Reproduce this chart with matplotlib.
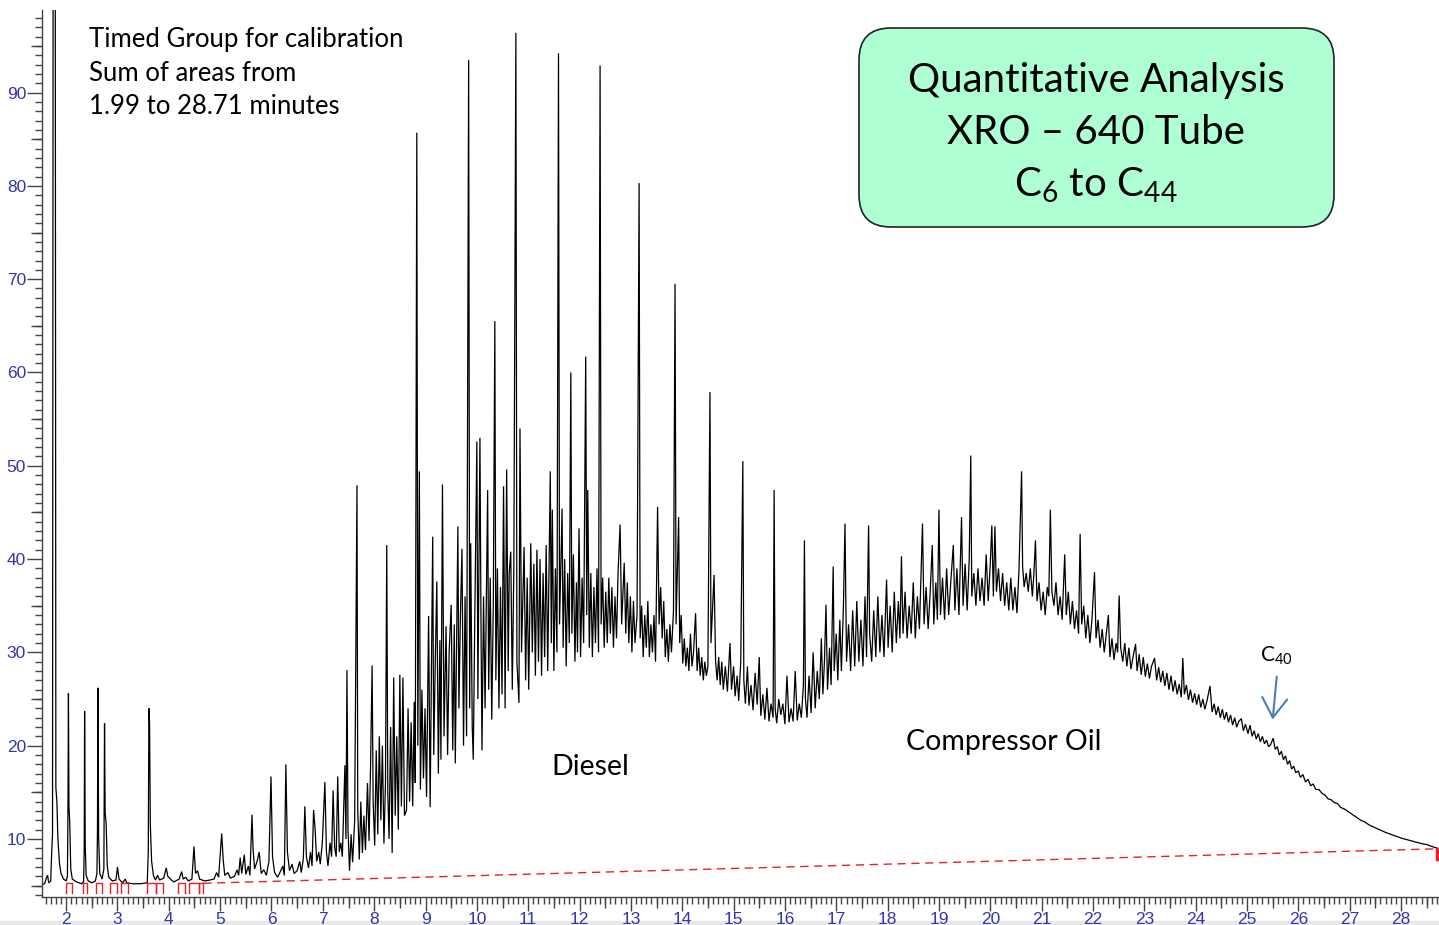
import numpy as np
import matplotlib
matplotlib.use("Agg")
import matplotlib.pyplot as plt
from matplotlib.ticker import MultipleLocator, FixedLocator, NullFormatter, FuncFormatter
from matplotlib.patches import FancyBboxPatch, Rectangle

plt.rcParams['font.family'] = ['Lato', 'DejaVu Sans']
plt.rcParams['mathtext.fontset'] = 'custom'
plt.rcParams['mathtext.rm'] = 'Lato'

# retention time (min), signal -- vertices of the chromatogram trace
early = [
    (1.53, 5.1), (1.58, 5.2), (1.62, 5.9), (1.64, 6.1), (1.66, 5.3), (1.70, 5.5), (1.72, 8.8), (1.735, 10.5),
    (1.75, 130), (1.785, 130), (1.80, 15.5), (1.82, 14.0), (1.84, 10.0), (1.87, 7.4), (1.90, 6.3), (1.95, 5.7),
    (2.00, 5.5), (2.025, 6.0), (2.035, 12.5), (2.045, 25.6), (2.055, 13.5), (2.07, 11.8), (2.09, 6.8), (2.12, 5.7),
    (2.20, 5.4), (2.30, 5.2), (2.34, 5.4), (2.352, 8.8), (2.36, 23.7), (2.372, 9.2), (2.39, 6.1), (2.43, 5.5),
    (2.50, 5.3), (2.57, 5.5), (2.60, 6.3), (2.61, 10.8), (2.62, 26.2), (2.633, 10.2), (2.655, 6.3), (2.70, 5.7),
    (2.735, 6.8), (2.748, 22.4), (2.76, 12.8), (2.78, 11.6), (2.80, 7.2), (2.83, 5.9), (2.90, 5.5), (2.97, 5.6),
    (3.00, 7.0), (3.03, 5.7), (3.10, 5.3), (3.15, 5.7), (3.18, 5.3), (3.30, 5.2), (3.45, 5.2), (3.58, 5.3),
    (3.60, 8.6), (3.612, 24.0), (3.625, 22.5), (3.64, 11.5), (3.665, 7.6), (3.70, 6.1), (3.74, 5.6), (3.78, 6.1),
    (3.82, 5.6), (3.90, 5.8), (3.95, 6.9), (3.98, 6.0), (4.05, 5.6), (4.10, 5.4), (4.20, 5.7), (4.25, 6.5),
    (4.28, 5.7), (4.33, 5.9), (4.38, 5.5), (4.45, 5.7), (4.49, 9.2), (4.52, 6.3), (4.56, 6.6), (4.60, 5.7),
    (4.70, 5.5), (4.80, 5.6), (4.88, 5.7), (4.93, 6.4), (4.97, 5.9), (5.03, 10.6), (5.06, 7.7), (5.09, 6.1),
    (5.15, 6.4), (5.20, 5.8), (5.28, 6.0), (5.33, 6.7), (5.36, 6.1), (5.39, 8.0), (5.42, 6.3), (5.47, 8.3),
    (5.50, 6.2), (5.55, 7.1), (5.58, 6.1), (5.62, 12.6), (5.64, 9.0), (5.67, 6.8), (5.72, 7.6), (5.76, 8.6),
    (5.80, 6.3), (5.85, 6.7), (5.90, 6.1), (5.95, 7.6), (5.99, 16.7), (6.02, 8.1), (6.06, 6.4), (6.12, 5.9),
    (6.18, 6.6), (6.22, 7.1), (6.25, 6.1), (6.28, 18.0), (6.31, 8.6), (6.35, 6.6), (6.40, 7.3), (6.44, 6.3),
    (6.50, 6.6), (6.55, 7.6), (6.58, 6.4), (6.62, 7.9), (6.65, 13.5), (6.68, 8.1), (6.72, 6.9), (6.76, 8.6),
    (6.79, 7.1), (6.82, 13.1), (6.85, 11.0), (6.88, 7.6), (6.92, 8.6), (6.95, 7.3), (6.99, 9.6), (7.04, 16.1),
    (7.07, 8.6), (7.10, 7.1), (7.14, 9.6), (7.17, 8.1), (7.20, 15.2), (7.23, 9.1), (7.26, 8.1), (7.29, 16.7),
    (7.32, 8.6), (7.35, 9.6), (7.38, 8.1), (7.43, 17.9), (7.45, 10.0), (7.47, 28.1), (7.49, 11.0), (7.52, 6.6),
    (7.55, 10.5), (7.58, 7.5), (7.62, 12.0), (7.665, 47.9), (7.68, 13.0), (7.71, 7.8), (7.74, 14.0), (7.77, 8.5),
    (7.80, 12.5), (7.83, 8.8), (7.87, 16.0), (7.90, 9.8), (7.93, 18.0), (7.96, 28.6), (7.98, 14.0), (8.01, 9.3),
    (8.04, 19.5), (8.07, 10.5), (8.10, 21.0), (8.13, 12.0), (8.16, 20.0), (8.19, 9.5), (8.22, 16.0), (8.245, 41.5),
    (8.265, 15.0), (8.29, 10.0), (8.32, 22.0), (8.35, 8.5), (8.38, 27.3), (8.41, 12.5), (8.44, 21.0), (8.47, 11.0),
    (8.50, 27.6), (8.53, 13.5), (8.56, 27.3), (8.59, 12.5),
]

diesel = [
    (8.63, 13.1), (8.66, 24.0), (8.69, 14.0), (8.72, 22.5), (8.75, 13.5), (8.78, 24.7), (8.80, 16.0), (8.83, 85.7),
    (8.85, 20.0), (8.88, 49.4), (8.90, 15.3), (8.93, 26.0), (8.96, 16.5), (8.99, 24.0), (9.02, 14.5), (9.06, 33.9),
    (9.09, 13.4), (9.14, 42.4), (9.16, 19.0), (9.19, 29.0), (9.22, 37.6), (9.25, 17.0), (9.28, 31.3), (9.30, 18.5),
    (9.33, 48.0), (9.36, 21.0), (9.40, 32.8), (9.43, 19.0), (9.46, 30.0), (9.50, 35.1), (9.53, 19.5), (9.56, 33.0),
    (9.58, 18.1), (9.63, 43.5), (9.65, 24.0), (9.68, 34.0), (9.71, 41.1), (9.74, 20.0), (9.77, 36.0), (9.80, 21.0),
    (9.84, 93.5), (9.86, 24.0), (9.88, 41.7), (9.91, 22.0), (9.93, 18.5), (9.96, 34.0), (10.00, 52.6), (10.02, 25.0),
    (10.06, 53.0), (10.08, 33.5), (10.10, 19.5), (10.13, 36.0), (10.16, 24.0), (10.21, 47.4), (10.23, 26.0),
    (10.26, 38.0), (10.29, 22.8), (10.32, 35.0), (10.35, 65.5), (10.37, 27.0), (10.40, 39.0), (10.43, 24.0),
    (10.46, 37.0), (10.49, 25.5), (10.52, 47.8), (10.55, 24.0), (10.58, 49.6), (10.61, 28.0), (10.63, 38.5),
    (10.66, 40.8), (10.69, 26.0), (10.72, 39.0), (10.76, 96.4), (10.78, 29.0), (10.82, 24.6), (10.84, 54.0),
    (10.87, 30.0), (10.92, 41.3), (10.95, 27.0), (10.98, 38.0), (11.01, 26.0), (11.05, 41.7), (11.08, 30.0),
    (11.11, 39.5), (11.14, 27.5), (11.17, 41.0), (11.20, 29.0), (11.23, 40.0), (11.26, 27.5), (11.29, 38.5),
    (11.32, 29.5), (11.35, 41.5), (11.38, 28.0), (11.43, 49.4), (11.45, 31.0), (11.47, 45.3), (11.50, 28.0),
    (11.53, 39.0), (11.56, 30.0), (11.59, 94.2), (11.61, 33.0), (11.66, 45.4), (11.68, 30.5), (11.71, 40.0),
    (11.74, 28.5), (11.77, 38.5), (11.80, 31.0), (11.83, 60.0), (11.85, 32.0), (11.88, 40.5), (11.91, 29.0),
    (11.94, 37.5), (11.96, 30.0), (11.99, 43.3), (12.02, 29.5), (12.05, 38.0), (12.08, 31.0), (12.12, 61.7),
    (12.14, 34.0), (12.16, 47.4), (12.19, 30.5), (12.22, 38.5), (12.25, 29.5), (12.28, 37.0), (12.31, 31.0),
    (12.34, 39.0), (12.37, 30.0), (12.40, 92.9), (12.42, 33.0), (12.45, 38.0), (12.48, 30.5), (12.51, 36.5),
    (12.54, 31.0), (12.57, 38.0), (12.60, 32.0), (12.63, 37.0), (12.66, 30.5), (12.69, 36.0), (12.72, 31.5),
    (12.75, 38.5), (12.79, 43.7), (12.82, 33.0), (12.87, 39.6), (12.90, 32.0), (12.93, 37.5), (12.96, 31.0),
    (12.99, 36.0), (13.02, 30.0), (13.05, 35.5), (13.08, 31.0), (13.12, 34.0), (13.16, 80.3), (13.18, 31.5),
    (13.21, 35.0), (13.24, 29.5), (13.27, 34.0), (13.30, 30.5), (13.33, 35.5), (13.36, 29.5), (13.39, 33.0),
    (13.42, 30.0), (13.45, 34.0), (13.48, 29.0), (13.52, 45.6), (13.55, 33.0), (13.58, 37.0), (13.61, 31.5),
    (13.64, 35.5), (13.67, 29.5), (13.70, 32.5), (13.73, 29.0), (13.76, 33.0), (13.79, 30.0), (13.83, 34.5),
    (13.86, 69.5), (13.88, 33.0), (13.93, 44.5), (13.95, 31.0), (13.98, 34.0), (14.01, 28.8), (14.04, 31.5),
    (14.07, 28.5), (14.10, 30.5), (14.13, 28.0), (14.16, 32.0), (14.19, 28.5), (14.22, 30.0), (14.26, 34.2),
    (14.29, 28.0), (14.32, 30.5), (14.35, 27.5), (14.38, 29.5), (14.41, 27.0), (14.44, 29.0), (14.47, 27.5),
    (14.50, 28.5), (14.54, 57.9), (14.56, 31.0), (14.62, 38.3), (14.65, 29.0), (14.68, 27.0),
]

oil = [
    (14.71, 29.5), (14.74, 26.5), (14.77, 29.0), (14.80, 26.0), (14.84, 28.5), (14.88, 25.8), (14.93, 31.0),
    (14.96, 26.0), (15.00, 28.5), (15.03, 25.3), (15.07, 27.5), (15.10, 24.8), (15.14, 29.0), (15.18, 50.5),
    (15.20, 27.0), (15.23, 24.5), (15.27, 28.5), (15.30, 24.3), (15.34, 26.5), (15.38, 23.8), (15.42, 27.8),
    (15.46, 24.4), (15.50, 29.5), (15.53, 23.2), (15.57, 25.5), (15.61, 22.8), (15.65, 26.2), (15.69, 22.6),
    (15.73, 24.5), (15.77, 23.0), (15.79, 47.4), (15.81, 24.0), (15.84, 22.4), (15.88, 25.0), (15.92, 23.3),
    (15.96, 24.5), (16.00, 22.3), (16.04, 27.5), (16.08, 22.5), (16.12, 24.0), (16.16, 22.6), (16.20, 28.0),
    (16.24, 22.7), (16.28, 24.5), (16.32, 23.0), (16.36, 26.5), (16.38, 42.0), (16.40, 25.0), (16.43, 23.0),
    (16.47, 27.5), (16.51, 23.5), (16.55, 30.0), (16.59, 24.0), (16.63, 28.0), (16.67, 25.0), (16.71, 31.5),
    (16.74, 25.5), (16.77, 29.0), (16.80, 35.1), (16.83, 26.0), (16.87, 30.5), (16.90, 26.5), (16.94, 39.2),
    (16.96, 28.0), (17.00, 32.0), (17.03, 27.0), (17.07, 33.5), (17.10, 28.0), (17.14, 35.0), (17.17, 43.8),
    (17.20, 29.0), (17.24, 33.0), (17.28, 28.0), (17.32, 34.5), (17.36, 28.5), (17.40, 35.5), (17.44, 29.0),
    (17.48, 33.5), (17.52, 28.5), (17.56, 36.0), (17.59, 29.5), (17.63, 43.6), (17.65, 32.0), (17.69, 29.0),
    (17.73, 34.5), (17.77, 29.5), (17.81, 36.0), (17.85, 30.0), (17.89, 34.0), (17.93, 29.5), (17.98, 37.8),
    (18.01, 30.5), (18.05, 35.0), (18.09, 30.0), (18.13, 36.5), (18.17, 31.0), (18.21, 35.5), (18.24, 31.5),
    (18.27, 40.3), (18.30, 32.0), (18.34, 36.5), (18.38, 31.5), (18.42, 35.0), (18.46, 32.0), (18.50, 37.5),
    (18.54, 31.5), (18.58, 36.0), (18.62, 32.5), (18.65, 38.0), (18.68, 43.8), (18.71, 33.0), (18.75, 37.0),
    (18.79, 32.5), (18.83, 36.5), (18.87, 41.5), (18.90, 33.0), (18.94, 37.5), (18.97, 33.5), (19.00, 45.3),
    (19.03, 34.0), (19.07, 38.0), (19.11, 33.5), (19.15, 39.0), (19.19, 34.0), (19.23, 37.5), (19.28, 41.5),
    (19.31, 34.5), (19.35, 39.0), (19.39, 34.0), (19.44, 44.5), (19.47, 35.0), (19.51, 39.5), (19.55, 34.5),
    (19.59, 40.0), (19.62, 51.1), (19.64, 36.0), (19.68, 38.5), (19.72, 35.0), (19.76, 39.0), (19.80, 35.5),
    (19.84, 38.0), (19.88, 35.0), (19.92, 40.5), (19.96, 35.5), (20.00, 39.5), (20.03, 43.6), (20.06, 36.0),
    (20.09, 43.5), (20.12, 36.5), (20.16, 39.0), (20.20, 35.5), (20.24, 38.5), (20.28, 35.0), (20.32, 37.5),
    (20.36, 34.5), (20.40, 38.0), (20.44, 34.5), (20.48, 37.0), (20.52, 34.2), (20.56, 39.0), (20.61, 49.4),
    (20.63, 39.2), (20.66, 37.0), (20.70, 38.5), (20.74, 36.5), (20.78, 39.0), (20.82, 36.0), (20.85, 38.5),
    (20.88, 42.0), (20.91, 35.5), (20.95, 37.5), (20.99, 34.5), (21.03, 36.5), (21.07, 34.0), (21.11, 37.0),
    (21.14, 36.0), (21.17, 45.3), (21.20, 36.5), (21.24, 35.0), (21.28, 37.5), (21.32, 34.0), (21.36, 36.0),
    (21.40, 33.5), (21.45, 40.5), (21.48, 34.0), (21.52, 36.5), (21.56, 33.0), (21.60, 35.5), (21.64, 32.5),
    (21.68, 34.5), (21.72, 32.0), (21.75, 42.7), (21.78, 33.0), (21.82, 35.0), (21.86, 31.5), (21.90, 34.0),
    (21.94, 31.0), (21.98, 33.5), (22.03, 38.6), (22.06, 31.5), (22.10, 33.5), (22.14, 30.5), (22.18, 32.5),
    (22.22, 30.0), (22.26, 32.0), (22.30, 34.0), (22.33, 29.5), (22.37, 31.5), (22.41, 29.2), (22.45, 31.0),
    (22.48, 30.0), (22.51, 36.1), (22.54, 30.5), (22.58, 29.0), (22.62, 31.0), (22.66, 28.5), (22.70, 30.5),
    (22.74, 28.2), (22.78, 29.5), (22.83, 30.9), (22.86, 28.0), (22.90, 29.8), (22.94, 27.6), (22.98, 29.5),
    (23.02, 27.4), (23.06, 28.8), (23.10, 27.2), (23.14, 28.5), (23.20, 29.4), (23.24, 27.0), (23.28, 28.4),
    (23.32, 26.8), (23.36, 28.0), (23.40, 26.4), (23.44, 27.8), (23.48, 26.0), (23.52, 27.5), (23.56, 25.8),
    (23.60, 27.0), (23.64, 25.5), (23.68, 26.6), (23.72, 25.2), (23.75, 29.4), (23.78, 25.5), (23.82, 26.5),
    (23.86, 24.9), (23.90, 26.0), (23.94, 24.6), (23.98, 25.6), (24.02, 24.4), (24.06, 25.5), (24.10, 24.1),
    (24.14, 25.0), (24.18, 23.9), (24.22, 24.8), (24.28, 26.4), (24.32, 23.6), (24.36, 24.5), (24.40, 23.3),
    (24.44, 24.2), (24.48, 23.0), (24.52, 23.9), (24.56, 22.8), (24.60, 23.6), (24.64, 22.5), (24.68, 23.3),
    (24.72, 22.2), (24.76, 23.0), (24.80, 22.0), (24.84, 22.6), (24.89, 22.9), (24.93, 21.6), (24.97, 22.3),
    (25.02, 21.3), (25.06, 22.2), (25.10, 21.0), (25.14, 21.6), (25.18, 20.7), (25.22, 21.3), (25.26, 20.4),
    (25.30, 21.0), (25.34, 20.2), (25.38, 20.6), (25.42, 19.9), (25.46, 20.1), (25.51, 20.8), (25.55, 19.6),
]

tail = [
    (25.59, 19.9), (25.63, 19.0), (25.67, 19.4), (25.71, 18.5), (25.75, 18.9), (25.79, 18.0), (25.83, 18.4),
    (25.87, 17.5), (25.91, 17.8), (25.95, 17.1), (26.00, 17.3), (26.04, 16.6), (26.09, 16.9), (26.14, 16.1),
    (26.19, 16.4), (26.24, 15.7), (26.29, 15.9), (26.34, 15.3), (26.40, 15.3), (26.46, 14.9), (26.52, 14.7),
    (26.58, 14.3), (26.64, 14.2), (26.70, 13.9), (26.76, 13.8), (26.82, 13.4), (26.90, 13.2), (26.98, 12.9),
    (27.06, 12.6), (27.14, 12.3), (27.22, 12.0), (27.30, 11.8), (27.38, 11.5), (27.46, 11.3), (27.54, 11.1),
    (27.62, 10.9), (27.70, 10.7), (27.80, 10.5), (27.90, 10.3), (28.00, 10.1), (28.10, 9.95), (28.20, 9.8),
    (28.30, 9.65), (28.40, 9.5), (28.50, 9.4), (28.60, 9.2), (28.71, 9.0),
]

# integration baseline and peak start/stop marks
baseline_t = [4.67, 28.71]
baseline_v = [5.25, 8.95]
mark_pairs = [(1.99, 2.11), (2.33, 2.41), (2.58, 2.70), (2.86, 2.99), (3.07, 3.20),
              (3.57, 3.75), (3.75, 3.89), (4.18, 4.32), (4.40, 4.59), (4.59, 4.67)]
mark_level = 5.3
mark_bottom = 4.2

x_ticks = list(range(2, 29))
y_ticks = list(range(10, 100, 10))

trace = early + diesel + oil + tail
rt = np.array([p[0] for p in trace])
signal = np.array([p[1] for p in trace])

fig = plt.figure(figsize=(14.39, 9.25), dpi=100)
ax = fig.add_axes([42 / 1439, 28 / 925, 1397 / 1439, 887 / 925])

ax.plot(rt, signal, color='black', lw=0.9, solid_joinstyle='miter')

ax.plot(baseline_t, baseline_v, color='#e8202a', lw=1.0, dashes=(6, 4))
for a, b in mark_pairs:
    ax.plot([a, a, b, b], [mark_bottom, mark_level, mark_level, mark_bottom], color='#e8202a', lw=1.0)
ax.plot([28.71, 28.71], [8.95, 7.9], color='#e8202a', lw=2.5)

ax.set_xlim(1.53, 28.74)
ax.set_ylim(3.78, 98.85)

for s in ['top', 'right']:
    ax.spines[s].set_visible(False)
for s in ['left', 'bottom']:
    ax.spines[s].set_color('#444444')
    ax.spines[s].set_linewidth(1.0)

blue = '#3434b0'
ax.xaxis.set_major_locator(FixedLocator(x_ticks))
ax.xaxis.set_major_formatter(FuncFormatter(lambda v, p: '%d' % v))
ax.xaxis.set_minor_locator(MultipleLocator(0.1))
ax.yaxis.set_major_locator(FixedLocator(y_ticks))
ax.yaxis.set_major_formatter(FuncFormatter(lambda v, p: '%d' % v))
ax.yaxis.set_minor_locator(MultipleLocator(1))
ax.tick_params(axis='x', which='major', length=10, width=1, color='#444444', pad=0.5,
               labelsize=12.5, labelcolor=blue, labelfontfamily='Liberation Sans')
ax.tick_params(axis='x', which='minor', length=5, width=1, color='#444444')
ax.tick_params(axis='y', which='major', length=11, width=1, color='#444444', pad=0.5,
               labelsize=12.5, labelcolor=blue, labelfontfamily='Liberation Sans')
ax.tick_params(axis='y', which='minor', length=5, width=1, color='#444444')

secx = ax.secondary_xaxis('bottom')
secx.set_xticks(np.arange(1.5, 29, 1.0))
secx.xaxis.set_major_formatter(NullFormatter())
secx.tick_params(length=8, width=1, color='#444444')
secx.spines['bottom'].set_visible(False)
secy = ax.secondary_yaxis('left')
secy.set_yticks(np.arange(5, 100, 10))
secy.yaxis.set_major_formatter(NullFormatter())
secy.tick_params(length=8, width=1, color='#444444')
secy.spines['left'].set_visible(False)

ax.text(2.45, 97.0, 'Timed Group for calibration\nSum of areas from\n1.99 to 28.71 minutes',
        fontsize=18.5, va='top', ha='left', linespacing=1.42)
ax.text(12.2, 17.7, 'Diesel', fontsize=20.5, ha='center', va='center')
ax.text(20.27, 20.4, 'Compressor Oil', fontsize=20.5, ha='center', va='center')
ax.text(25.58, 29.6, r'$\mathregular{C_{40}}$', fontsize=15, ha='center', va='center')
ax.annotate('', xy=(25.50, 22.8), xytext=(25.58, 27.4),
            arrowprops=dict(arrowstyle='->,head_length=0.7,head_width=0.45', color='#4a7ebb',
                            lw=1.5, mutation_scale=20, shrinkA=0, shrinkB=0))

box = FancyBboxPatch((8.59, 6.98), 4.75, 1.99, boxstyle='round,pad=0,rounding_size=0.32',
                     transform=fig.dpi_scale_trans, facecolor='#aeffd4', edgecolor='#222222', lw=1.2)
fig.patches.append(box)
fig.text(0.7617, 0.9125, 'Quantitative Analysis', fontsize=29, ha='center', va='center')
fig.text(0.7617, 0.8563, 'XRO \u2013 640 Tube', fontsize=29, ha='center', va='center')
fig.text(0.7617, 0.7995, r'$\mathregular{C_6}$ to $\mathregular{C_{44}}$', fontsize=29, ha='center', va='center')

fig.patches.append(Rectangle((0, 0), 1, 4 / 925, transform=fig.transFigure, color='#e8e8e8', zorder=-1))

fig.savefig('out.png', dpi=100)
